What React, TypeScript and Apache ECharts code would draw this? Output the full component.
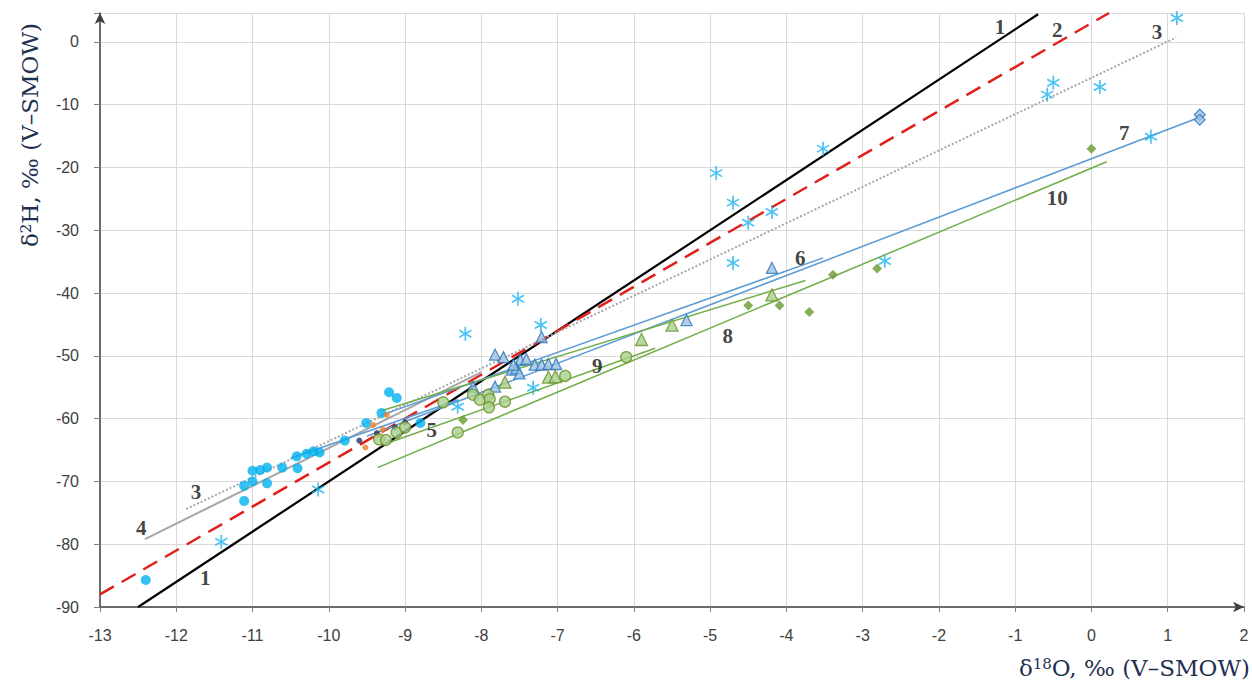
import React, { useEffect, useRef } from 'react';
import * as echarts from 'echarts';

// ---- data (δ18O, δ2H) ----
const lightBlueDots = [
  [-12.4, -85.7], [-11.11, -73.1], [-11.11, -70.7], [-11.0, -70.0], [-11.0, -68.3],
  [-10.9, -68.2], [-10.81, -67.8], [-10.81, -70.3], [-10.61, -67.8], [-10.42, -66.0],
  [-10.41, -67.9], [-10.29, -65.6], [-10.2, -65.2], [-10.12, -65.4], [-9.79, -63.5],
  [-9.51, -60.7], [-9.31, -59.1], [-9.21, -55.8], [-9.11, -56.7], [-8.8, -60.7],
];
const orangeDots = [[-9.24, -59.4], [-9.42, -61.0], [-9.29, -61.7], [-9.52, -64.6], [-9.36, -62.6]];
const navyDots = [[-9.6, -63.5], [-9.37, -62.3], [-9.13, -61.4], [-9.0, -60.6]];
const blueTriangles = [
  [-7.21, -47.0], [-7.82, -49.8], [-7.71, -50.2], [-7.49, -50.6], [-7.41, -50.5],
  [-7.6, -52.2], [-7.54, -52.0], [-7.5, -52.8], [-7.58, -51.4], [-7.3, -51.4],
  [-7.21, -51.4], [-7.12, -51.3], [-7.02, -51.3], [-7.82, -54.9], [-8.11, -54.9],
  [-4.19, -36.0], [-5.31, -44.3],
];
const greenTriangles = [[-7.69, -54.2], [-7.12, -53.4], [-7.03, -53.3], [-5.9, -47.4], [-5.5, -45.1], [-4.19, -40.3]];
const greenCircles = [
  [-9.34, -63.3], [-9.25, -63.4], [-9.11, -62.2], [-9.0, -61.4], [-8.5, -57.4], [-8.31, -62.2],
  [-8.11, -56.2], [-8.02, -57.0], [-7.91, -56.2], [-7.89, -56.9], [-7.9, -58.2], [-7.69, -57.3],
  [-6.9, -53.2], [-6.1, -50.2],
];
const greenDiamonds = [[0.0, -17.0], [-2.81, -36.1], [-3.39, -37.1], [-3.7, -43.0], [-4.09, -42.0], [-4.5, -42.0], [-8.24, -60.2]];
const blueDiamonds = [[1.42, -11.6], [1.42, -12.4]];
const asterisks = [
  [1.12, 3.8], [-0.5, -6.5], [-0.58, -8.4], [0.11, -7.2], [0.78, -15.1], [-4.92, -20.9],
  [-4.7, -25.6], [-4.5, -28.8], [-4.19, -27.1], [-3.52, -17.0], [-4.7, -35.2], [-2.71, -34.9],
  [-7.52, -40.9], [-8.21, -46.5], [-7.22, -45.1], [-7.32, -55.1], [-8.31, -58.1],
  [-10.14, -71.3], [-11.41, -79.6],
];

// regression / reference lines (end points)
const line1 = [[-12.5, -90], [-0.7, 4.4]];
const line2 = [[-13, -88], [0.23, 4.6]];
const line3 = [[-11.87, -74.4], [1.11, 0.7]];
const line4 = [[-12.41, -79.2], [-8.0, -52.6]];
const line5 = [[-10.5, -66.3], [-8.3, -57.0]];
const line6 = [[-9.3, -59.4], [-3.52, -34.4]];
const line7 = [[-9.5, -62.8], [1.42, -12.0]];
const line8 = [[-9.3, -58.7], [-3.75, -38.0]];
const line9 = [[-9.3, -64.2], [-5.72, -48.8]];
const line10 = [[-9.36, -67.8], [0.2, -19.1]];

// line number labels (anchor points)
const lineLabels = [
  { name: '1', value: [-1.2, 2.4] },
  { name: '1', value: [-11.62, -85.4] },
  { name: '2', value: [-0.45, 1.9] },
  { name: '3', value: [0.86, 1.6] },
  { name: '3', value: [-11.74, -71.7] },
  { name: '4', value: [-12.46, -77.4] },
  { name: '5', value: [-8.65, -61.8] },
  { name: '6', value: [-3.82, -34.4] },
  { name: '7', value: [0.43, -14.5] },
  { name: '8', value: [-4.77, -46.8] },
  { name: '9', value: [-6.48, -51.6] },
  { name: '10', value: [-0.45, -24.8] },
];

const xMin = -13, xMax = 2, xStep = 1;
const yMin = -90, yMax = 4.6, yStep = 10;

const asteriskPath = 'path://M5,0L5,10M0.67,2.5L9.33,7.5M0.67,7.5L9.33,2.5';

function mkLine(data: number[][], color: string, width: number, type: any = 'solid') {
  return {
    type: 'line', data, symbol: 'none', silent: true, z: 2,
    lineStyle: { color, width, type, cap: 'butt' },
  };
}

export default function App() {
  const ref = useRef<HTMLDivElement>(null);
  useEffect(() => {
    const chart = echarts.init(ref.current!, null, { renderer: 'svg' });
    const serif = '"DejaVu Serif", "Liberation Serif", serif';
    const labelSerif = '"Liberation Serif", "DejaVu Serif", serif';
    const sans = '"Liberation Sans", "Open Sans", sans-serif';
    const nameRich = {
      a: { fontFamily: serif, fontSize: 23, fill: '#1f3050' },
      s: { fontFamily: serif, fontSize: 15, fill: '#1f3050', verticalAlign: 'top', padding: [0, 0, 9, 0] },
    };
    chart.setOption({
      animation: false,
      backgroundColor: '#ffffff',
      grid: { left: 100, right: 8, top: 13, bottom: 79, containLabel: false },
      xAxis: {
        type: 'value', min: xMin, max: xMax, interval: xStep,
        axisLine: { onZero: false, lineStyle: { color: '#404040', width: 1.5 }, symbol: ['none', 'arrow'], symbolSize: [8, 11] },
        axisTick: { show: true, length: 5, lineStyle: { color: '#808080' } },
        axisLabel: { color: '#404040', fontSize: 16, fontFamily: sans, margin: 20 },
        splitLine: { show: true, lineStyle: { color: '#d9d9d9', width: 1 } },
      },
      yAxis: {
        type: 'value', min: yMin, max: yMax, interval: yStep,
        axisLine: { onZero: false, show: true, lineStyle: { color: '#404040', width: 1.5 }, symbol: ['none', 'arrow'], symbolSize: [8, 11] },
        axisTick: { show: true, length: 6, lineStyle: { color: '#808080' } },
        axisLabel: {
          color: '#404040', fontSize: 16, fontFamily: sans, margin: 21,
          formatter: (v: number) => (Math.abs(v % yStep) < 1e-6 ? String(v) : ''),
        },
        splitLine: { show: true, lineStyle: { color: '#d9d9d9', width: 1 } },
      },
      graphic: [
        {
          type: 'text', x: 30, y: 135, rotation: Math.PI / 2,
          style: {
            text: '{a|δ}{s|2}{a|H, ‰ (V–SMOW)}',
            align: 'center', verticalAlign: 'middle', rich: nameRich,
          },
        },
        {
          type: 'text', x: 1250, y: 668,
          style: {
            text: '{a|δ}{s|18}{a|O, ‰ (V–SMOW)}',
            align: 'right', verticalAlign: 'middle', rich: nameRich,
          },
        },
      ],
      series: [
        mkLine(line1, '#000000', 2.2),
        mkLine(line2, '#e0201b', 2.5, [16, 9]),
        mkLine(line3, '#a6a6a6', 2, [2, 2]),
        mkLine(line4, '#a6a6a6', 2),
        mkLine(line5, '#5b9bd5', 1.5),
        mkLine(line6, '#5b9bd5', 1.5),
        mkLine(line7, '#5b9bd5', 1.5),
        mkLine(line8, '#70ad47', 1.5),
        mkLine(line9, '#70ad47', 1.5),
        mkLine(line10, '#70ad47', 1.5),
        {
          type: 'scatter', data: lightBlueDots, symbol: 'circle', symbolSize: 10, z: 3,
          itemStyle: { color: '#00b0f0' },
        },
        {
          type: 'scatter', data: orangeDots, symbol: 'circle', symbolSize: 6, z: 3,
          itemStyle: { color: '#ed7d31' },
        },
        {
          type: 'scatter', data: navyDots, symbol: 'circle', symbolSize: 6, z: 3,
          itemStyle: { color: '#1f3864' },
        },
        {
          type: 'scatter', data: blueTriangles, symbol: 'triangle', symbolSize: 11, z: 3,
          itemStyle: { color: '#9dc3e6', borderColor: '#2e75b6', borderWidth: 1.3 },
        },
        {
          type: 'scatter', data: greenTriangles, symbol: 'triangle', symbolSize: 12, z: 3,
          itemStyle: { color: '#a9d18e', borderColor: '#6b8e23', borderWidth: 1.3 },
        },
        {
          type: 'scatter', data: greenCircles, symbol: 'circle', symbolSize: 11, z: 3,
          itemStyle: { color: '#a9d18e', borderColor: '#6b8e23', borderWidth: 1.3 },
        },
        {
          type: 'scatter', data: greenDiamonds, symbol: 'diamond', symbolSize: 10, z: 3,
          itemStyle: { color: '#6a9a32' },
        },
        {
          type: 'scatter', data: blueDiamonds, symbol: 'diamond', symbolSize: 11, z: 3,
          itemStyle: { color: '#9dc3e6', borderColor: '#2e75b6', borderWidth: 1.2 },
        },
        {
          type: 'scatter', data: asterisks, symbol: asteriskPath, symbolSize: 14, symbolKeepAspect: true, z: 3,
          itemStyle: { color: 'none', borderColor: '#1fb4f0', borderWidth: 1.7 },
        },
        {
          type: 'scatter', data: lineLabels, symbolSize: 0, z: 4, silent: true,
          label: {
            show: true, position: 'inside', formatter: '{b}',
            fontFamily: labelSerif, fontWeight: 'bold', fontSize: 21, color: '#111111',
          },
        },
      ],
    });
    return () => chart.dispose();
  }, []);
  return <div ref={ref} style={{ width: 1252, height: 686, position: 'absolute', left: 0, top: 0 }} />;
}
